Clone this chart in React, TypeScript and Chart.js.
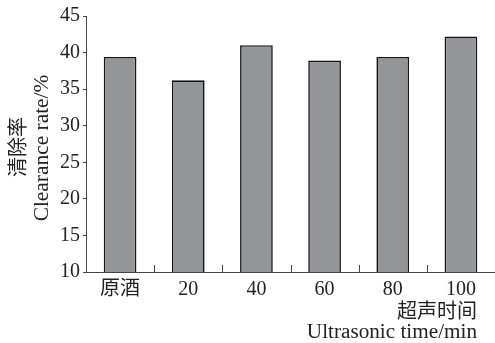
import React, { useEffect, useRef } from "react";
import { Chart, registerables } from "chart.js";

Chart.register(...registerables);

const categories = ["原酒", "20", "40", "60", "80", "100"];
const clearanceRate = [39.4, 36.2, 41.0, 38.9, 39.4, 42.2];
const yMin = 10;
const yMax = 45;
const yStep = 5;
const yTitleCn = "清除率";
const yTitleEn = "Clearance rate/%";
const xTitleCn = "超声时间";
const xTitleEn = "Ultrasonic time/min";

const SERIF = "'Liberation Serif', 'Times New Roman', 'Noto Sans CJK SC', serif";
const AXIS = "#444";

const decorPlugin = {
  id: "decor",
  afterDraw(chart: any) {
    const ctx = chart.ctx as CanvasRenderingContext2D;
    const x = chart.scales.x;
    const area = chart.chartArea;
    ctx.save();
    ctx.strokeStyle = AXIS;
    ctx.lineWidth = 1;
    for (let i = 1; i < categories.length; i++) {
      const px = Math.round((x.getPixelForTick(i - 1) + x.getPixelForTick(i)) / 2) + 0.5;
      ctx.beginPath();
      ctx.moveTo(px, area.bottom);
      ctx.lineTo(px, area.bottom - 7);
      ctx.stroke();
    }
    ctx.fillStyle = "#222";
    ctx.textBaseline = "middle";
    // y title
    ctx.save();
    ctx.translate(17.5, 147);
    ctx.rotate(-Math.PI / 2);
    ctx.textAlign = "center";
    ctx.font = "20px 'Noto Sans CJK SC', " + SERIF;
    ctx.fillText(yTitleCn, 0, 0);
    ctx.restore();
    ctx.save();
    ctx.translate(43, 148);
    ctx.rotate(-Math.PI / 2);
    ctx.scale(1.07, 1);
    ctx.textAlign = "center";
    ctx.font = "20px " + SERIF;
    ctx.fillText(yTitleEn, 0, 0);
    ctx.restore();
    // x title
    ctx.textAlign = "right";
    ctx.font = "20px 'Noto Sans CJK SC', " + SERIF;
    ctx.fillText(xTitleCn, 477, 310);
    ctx.save();
    ctx.translate(477, 333);
    ctx.scale(1.06, 1);
    ctx.font = "20px " + SERIF;
    ctx.fillText(xTitleEn, 0, 0);
    ctx.restore();
    ctx.restore();
  },
};

export default function App() {
  const ref = useRef<HTMLCanvasElement | null>(null);
  useEffect(() => {
    if (!ref.current) return;
    const chart = new Chart(ref.current, {
      type: "bar",
      data: {
        labels: categories,
        datasets: [
          {
            data: clearanceRate,
            backgroundColor: "#939598",
            borderColor: "#151515",
            borderWidth: 1.6,
            barPercentage: 0.48,
            categoryPercentage: 1,
          },
        ],
      },
      options: {
        responsive: false,
        animation: false,
        layout: { padding: { top: 16, right: 0, left: 0, bottom: 0 } },
        plugins: { legend: { display: false }, tooltip: { enabled: false } },
        scales: {
          x: {
            offset: true,
            grid: { display: true, drawOnChartArea: false, drawTicks: false, color: AXIS },
            border: { display: true, color: AXIS, width: 1 },
            ticks: {
              padding: 6,
              color: "#222",
              font: { family: SERIF, size: 20 },
              maxRotation: 0,
              autoSkip: false,
            },
            afterFit: (s: any) => {
              s.height = 71;
            },
          },
          y: {
            min: yMin,
            max: yMax,
            grid: { display: true, drawOnChartArea: false, drawTicks: true, tickLength: 3, color: AXIS },
            border: { display: true, color: AXIS, width: 1 },
            ticks: {
              stepSize: yStep,
              padding: 3,
              color: "#222",
              font: { family: SERIF, size: 20 },
            },
            afterFit: (s: any) => {
              s.width = 86;
            },
          },
        },
      },
      plugins: [decorPlugin],
    });
    return () => chart.destroy();
  }, []);
  return (
    <div style={{ position: "fixed", left: 0, top: 0, width: 495, height: 343, background: "#fff" }}>
      <canvas ref={ref} width={495} height={343} />
    </div>
  );
}
